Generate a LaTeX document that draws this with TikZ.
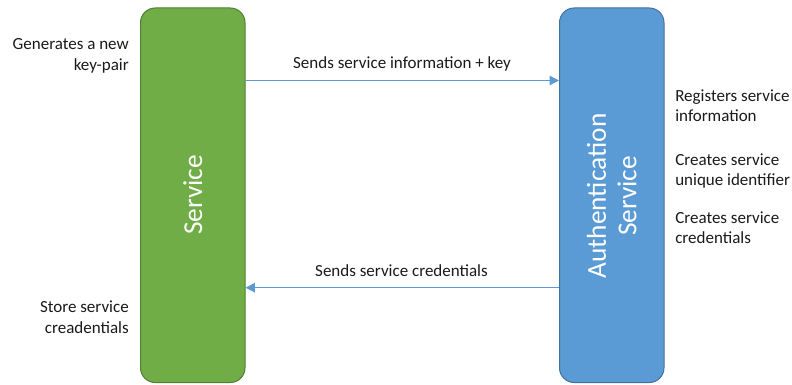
\documentclass[tikz,border=0pt]{standalone}
\usepackage{fontspec}
\setmainfont{Carlito}
\usetikzlibrary{arrows.meta}
\definecolor{svcgreen}{HTML}{70AD47}
\definecolor{svcgreenedge}{HTML}{507E32}
\definecolor{authblue}{HTML}{5B9BD5}
\definecolor{authblueedge}{HTML}{41719C}
\definecolor{msgline}{HTML}{5B9BD5}
\definecolor{note}{HTML}{1A1A1A}
\begin{document}
\begin{tikzpicture}[x=0.75pt,y=-0.75pt,
  actor/.style={draw, line width=0.75pt, rounded corners=11pt},
  actorlabel/.style={text=white, font=\fontsize{20.5}{23}\selectfont, align=center, rotate=90, inner sep=0pt},
  msg/.style={draw=msgline, line width=1pt, -{Triangle[length=7pt,width=7pt]}},
  msglabel/.style={text=note, font=\fontsize{12.75}{15}\selectfont, inner sep=0pt, anchor=base},
  leftnote/.style={text=note, font=\fontsize{12.75}{15.5}\selectfont, align=right, inner sep=0pt, anchor=base east},
  rightnote/.style={text=note, font=\fontsize{12.75}{14.5}\selectfont, align=left, inner sep=0pt, anchor=base west}]
  \useasboundingbox (0,0) rectangle (792,385);

  % the two participants
  \draw[actor, fill=svcgreen, draw=svcgreenedge] (140.5,8) rectangle (245,382.5);
  \draw[actor, fill=authblue, draw=authblueedge] (559.5,8) rectangle (664,382.5);
  \node[actorlabel] (svc) at (192.75,195) {Service};
  \node[actorlabel] (auth) at (611.75,196) {Authentication\\Service};

  % anchors on the participant edges for the messages
  \coordinate (svcTop) at (245.5,80.5);
  \coordinate (authTop) at (559,80.5);
  \coordinate (svcBot) at (245.5,287.7);
  \coordinate (authBot) at (559,287.7);

  % messages
  \draw[msg] (svcTop) -- (authTop);
  \draw[msg] (authBot) -- (svcBot);
  \node[msglabel] (m1) at (402,69) {Sends service information + key};
  \node[msglabel] (m2) at (401.5,276.5) {Sends service credentials};

  % notes beside the service (anchored at the last line's baseline)
  \node[leftnote] (n1) at (129,70) {Generates a new\\key-pair};
  \node[leftnote] (n2) at (129,333) {Store service\\creadentials};

  % notes beside the authentication service
  \node[rightnote] (r1) at (675,121) {Registers service\\information};
  \node[rightnote] (r2) at (675,185) {Creates service\\unique identifier};
  \node[rightnote] (r3) at (675,243) {Creates service\\credentials};
\end{tikzpicture}
\end{document}
